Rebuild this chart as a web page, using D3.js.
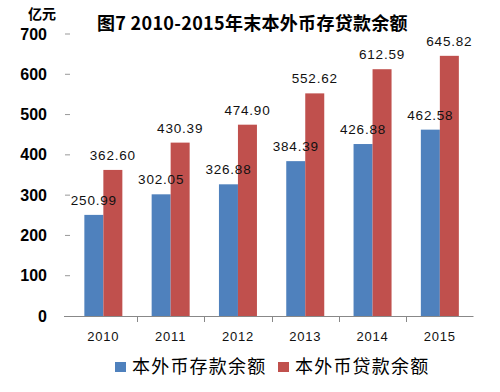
<!DOCTYPE html>
<html><head><meta charset="utf-8">
<script src="https://cdn.jsdelivr.net/npm/d3@7"></script>
<style>body{margin:0;background:#fff}svg{display:block}</style>
</head><body>
<svg id="c" width="500" height="392"></svg>
<script>
const years = ["2010","2011","2012","2013","2014","2015"];
const deposits = [250.99, 302.05, 326.88, 384.39, 426.88, 462.58];
const loans = [362.60, 430.39, 474.90, 552.62, 612.59, 645.82];
const seriesNames = ["本外币存款余额", "本外币贷款余额"];
const colors = ["#4F81BD", "#C0504D"];
const yTicks = [0,100,200,300,400,500,600,700];

const svg = d3.select("#c");
const x = d3.scaleBand().domain(years).range([69.7, 473.5]).paddingInner(0).paddingOuter(0);
const y = d3.scaleLinear().domain([0,700]).range([316, 34]);
const barW = 19;
const series = [deposits, loans];

// title
svg.append("text").attr("x", 97).attr("y", 30)
  .attr("font-family","'Noto Sans CJK SC', sans-serif").attr("font-weight","bold")
  .attr("font-size", 18).attr("letter-spacing","0.3px").attr("fill","#000").text("图7 2010-2015年末本外币存贷款余额");
// unit
svg.append("text").attr("x", 28).attr("y", 19)
  .attr("font-family","'Noto Sans CJK SC', sans-serif").attr("font-weight","bold")
  .attr("font-size", 14).attr("fill","#000").text("亿元");

// y axis labels + ticks
const yAxis = svg.append("g");
yTicks.forEach(t => {
  yAxis.append("text").attr("x", 47).attr("y", y(t)).attr("dy","0.35em")
    .attr("text-anchor","end").attr("font-family","'Liberation Sans', Arial, sans-serif")
    .attr("font-weight","bold").attr("font-size",16).attr("fill","#000").text(t);
  if (t > 0) yAxis.append("line").attr("x1",65).attr("x2",70).attr("y1",y(t)).attr("y2",y(t))
    .attr("stroke","#999").attr("stroke-width",1);
});

// bars
series.forEach((vals, si) => {
  svg.append("g").selectAll("rect").data(vals).join("rect")
    .attr("x", (d,i) => x(years[i]) + x.bandwidth()/2 - barW + si*barW)
    .attr("y", d => y(d)).attr("width", barW).attr("height", d => y(0) - y(d))
    .attr("fill", colors[si]);
});
// labels
series.forEach((vals, si) => {
  svg.append("g").selectAll("text").data(vals).join("text")
    .attr("x", (d,i) => x(years[i]) + x.bandwidth()/2 - barW/2 + si*barW)
    .attr("y", d => y(d) - 10)
    .attr("text-anchor","middle").attr("font-family","'Liberation Sans', Arial, sans-serif")
    .attr("font-size",13.5).attr("letter-spacing","0.8px").attr("fill","#111")
    .text(d => d.toFixed(2));
});

// x axis
svg.append("line").attr("x1",64).attr("x2",473.5).attr("y1",316.5).attr("y2",316.5)
  .attr("stroke","#888").attr("stroke-width",1);
years.slice(1).forEach(yr => {
  svg.append("line").attr("x1",Math.round(x(yr))+0.5).attr("x2",Math.round(x(yr))+0.5)
    .attr("y1",316).attr("y2",322).attr("stroke","#888");
});
years.forEach(yr => {
  svg.append("text").attr("x", x(yr)+x.bandwidth()/2).attr("y", 341)
    .attr("text-anchor","middle").attr("font-family","'Liberation Sans', Arial, sans-serif")
    .attr("font-size",13).attr("letter-spacing","0.8px").attr("fill","#111").text(yr);
});

// legend
const legX = [115, 278];
seriesNames.forEach((n, i) => {
  svg.append("rect").attr("x", legX[i]).attr("y", 362).attr("width", 11).attr("height", 10).attr("fill", colors[i]);
  svg.append("text").attr("x", legX[i] + 17).attr("y", 373)
    .attr("font-family","'Noto Sans CJK SC', sans-serif").attr("font-size",18)
    .attr("letter-spacing","1.2px").attr("fill","#000").text(n);
});
</script>
</body></html>
